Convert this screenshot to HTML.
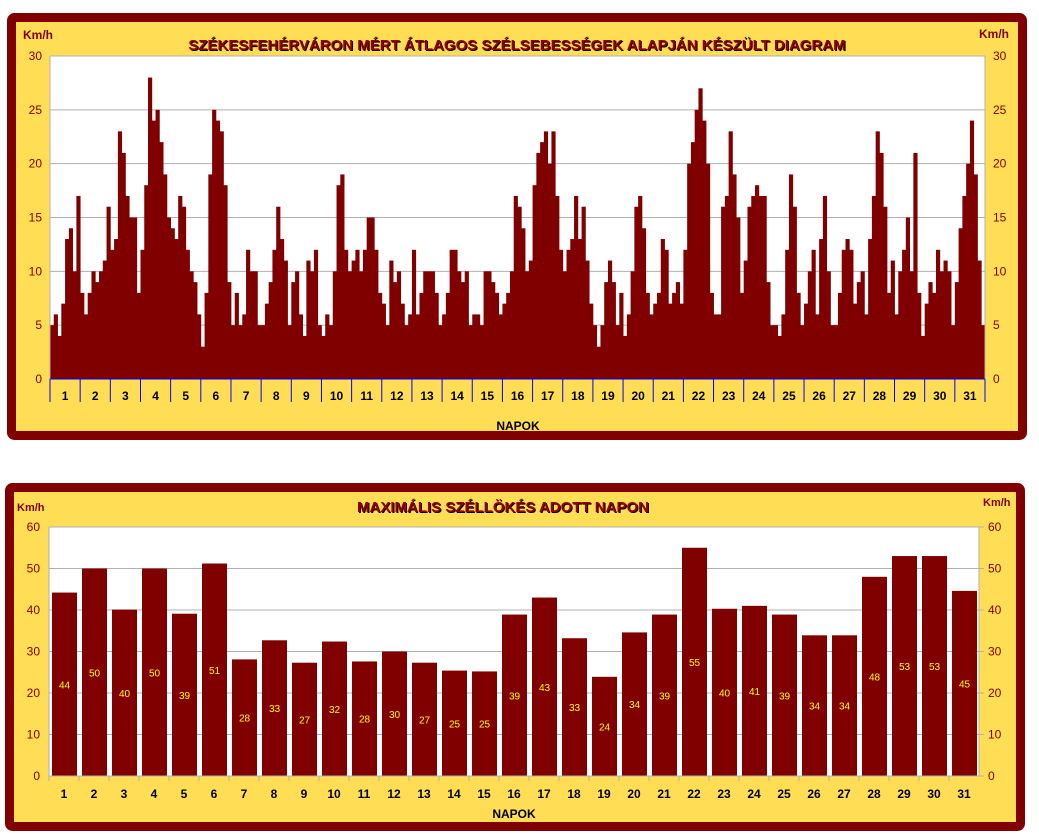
<!DOCTYPE html>
<html><head><meta charset="utf-8"><style>
body{margin:0;background:#fff;width:1039px;height:836px;overflow:hidden;font-family:"Liberation Sans",sans-serif}
svg{position:absolute;left:0;top:0}
</style></head><body>
<svg width="1039" height="836">
<rect x="11.5" y="17.5" width="1011" height="418" fill="#FFDD55" stroke="#800000" stroke-width="9" rx="3"/>
<rect x="50" y="56" width="935" height="323" fill="#fff"/>
<g id="topGrid"></g><g id="topBars"></g><g id="topAxes"></g>
<text x="23" y="39" font-size="12" font-weight="bold" fill="#800000">Km/h</text>
<text x="979" y="38" font-size="12" font-weight="bold" fill="#800000">Km/h</text>
<text x="518" y="51" font-size="15" font-weight="bold" fill="#000" text-anchor="middle">SZÉKESFEHÉRVÁRON MÉRT ÁTLAGOS SZÉLSEBESSÉGEK ALAPJÁN KÉSZÜLT DIAGRAM</text>
<text x="517" y="50" font-size="15" font-weight="bold" fill="#990000" text-anchor="middle">SZÉKESFEHÉRVÁRON MÉRT ÁTLAGOS SZÉLSEBESSÉGEK ALAPJÁN KÉSZÜLT DIAGRAM</text>
<text x="518" y="430" font-size="12" font-weight="bold" fill="#000" text-anchor="middle">NAPOK</text>

<rect x="9.5" y="487.5" width="1011" height="339" fill="#FFDD55" stroke="#800000" stroke-width="9" rx="3"/>
<rect x="49" y="527" width="930" height="249" fill="#fff"/>
<g id="botGrid"></g><g id="botBars"></g><g id="botAxes"></g>
<text x="17" y="511" font-size="11" font-weight="bold" fill="#800000">Km/h</text>
<text x="983" y="506" font-size="11" font-weight="bold" fill="#800000">Km/h</text>
<text x="504" y="513" font-size="15" font-weight="bold" fill="#000" text-anchor="middle">MAXIMÁLIS SZÉLLÖKÉS ADOTT NAPON</text>
<text x="503" y="512" font-size="15" font-weight="bold" fill="#990000" text-anchor="middle">MAXIMÁLIS SZÉLLÖKÉS ADOTT NAPON</text>
<text x="514" y="818" font-size="12" font-weight="bold" fill="#000" text-anchor="middle">NAPOK</text>
</svg>
<script>
const days = Array.from({length:31},(_,i)=>String(i+1));
const avgSpeed = [
5,6,4,7,13,14,10,17, 8,6,8,10,9,10,11,16, 12,13,23,21,17,15,15,8, 12,18,28,24,25,22,19,15,
14,13,17,16,12,10,9,6, 3,8,19,25,24,23,18,9, 5,8,5,6,12,10,10,5, 5,7,9,12,16,13,11,5,
9,10,6,4,11,10,12,5, 4,6,5,10,18,19,12,10, 11,12,10,12,15,15,12,8, 7,5,11,9,10,7,5,6,
12,6,8,10,10,10,8,5, 6,8,12,12,10,9,10,5, 6,6,5,10,10,9,8,6, 7,8,10,17,16,14,10,11,
18,21,22,23,20,23,17,12, 10,12,13,17,13,16,11,7, 5,3,5,9,11,9,5,8, 4,6,10,16,17,14,8,6,
7,8,13,12,7,8,9,7, 12,20,22,25,27,24,20,8, 6,6,16,17,23,19,15,8, 11,16,17,18,17,17,9,5,
5,4,6,12,19,16,8,5, 7,10,12,6,13,17,10,5, 5,8,12,13,12,7,9,10, 6,13,17,23,21,16,8,11,
6,10,12,15,10,21,8,4, 7,9,8,12,10,11,10,5, 9,14,17,20,24,19,11,5];
const topTicks = [0,5,10,15,20,25,30];
const maxGust = [44.2,50,40.1,50,39.1,51.2,28.1,32.7,27.3,32.4,27.6,30,27.3,25.4,25.2,38.9,43,33.2,23.9,34.6,38.9,55,40.3,41,38.9,33.9,33.9,48,53,53,44.6];
const gustLabels = ["44","50","40","50","39","51","28","33","27","32","28","30","27","25","25","39","43","33","24","34","39","55","40","41","39","34","34","48","53","53","45"];
const botTicks = [0,10,20,30,40,50,60];

const NS="http://www.w3.org/2000/svg";
function mk(parent,tag,attrs,txt){const e=document.createElementNS(NS,tag);for(const k in attrs)e.setAttribute(k,attrs[k]);if(txt!==undefined)e.textContent=txt;document.getElementById(parent).appendChild(e);return e;}

// top chart
const tX0=50,tX1=985,tY0=379,tY1=56,tMax=30;
const ty=v=>tY0-(v/tMax)*(tY0-tY1);
const dayW=(tX1-tX0)/days.length;
const barW=(tX1-tX0)/avgSpeed.length;
topTicks.forEach(t=>{
 const g=mk('topGrid','line',{x1:tX0,x2:tX1,y1:ty(t),y2:ty(t),stroke:'#b0b0b0','stroke-width':1});
 
 
 const l=mk('topAxes','text',{x:42,y:ty(t)+4,'font-size':12,fill:'#800000','text-anchor':'end'},t);
 
 
 const r=mk('topAxes','text',{x:993,y:ty(t)+4,'font-size':12,fill:'#800000'},t);
 
 
});
avgSpeed.forEach((v,i)=>{
 const b=mk('topBars','rect',{x:tX0+i*barW,y:ty(v),width:barW+0.4,height:tY0-ty(v),fill:'#800000'});
 
 
});
mk('topAxes','line',{x1:tX0,x2:tX0,y1:tY1,y2:tY0,stroke:'#b0b0b0'});
mk('topAxes','line',{x1:tX1,x2:tX1,y1:tY1,y2:tY0,stroke:'#b0b0b0'});
days.forEach((d,i)=>{
 const t=mk('topAxes','line',{x1:tX0+i*dayW,x2:tX0+i*dayW,y1:tY0,y2:402,stroke:'#0000ff'});
 
 
 const l=mk('topAxes','text',{x:tX0+(i+0.5)*dayW,y:400,'font-size':12,'font-weight':'bold',fill:'#000','text-anchor':'middle'},d);
 
 
});
mk('topAxes','line',{x1:tX1,x2:tX1,y1:tY0,y2:402,stroke:'#0000ff'});
mk('topAxes','line',{x1:tX0,x2:tX1,y1:tY0,y2:tY0,stroke:'#0000ff'});

// bottom chart
const bX0=49,bX1=979,bY0=776,bY1=527,bMax=60;
const by=v=>bY0-(v/bMax)*(bY0-bY1);
const slot=(bX1-bX0)/days.length;
botTicks.forEach(t=>{
 const g=mk('botGrid','line',{x1:bX0,x2:bX1,y1:by(t),y2:by(t),stroke:'#b0b0b0'});
 
 
 const l=mk('botAxes','text',{x:40,y:by(t)+4,'font-size':12,fill:'#800000','text-anchor':'end'},t);
 
 
 const r=mk('botAxes','text',{x:988,y:by(t)+4,'font-size':12,fill:'#800000'},t);
 
 
 mk('botAxes','line',{x1:bX1,x2:bX1+5,y1:by(t),y2:by(t),stroke:'#b0b0b0'});
});
maxGust.forEach((v,i)=>{
 const x=bX0+i*slot+3;
 const b=mk('botBars','rect',{x:x,y:by(v),width:25,height:bY0-by(v),fill:'#800000'});
 
 
 const l=mk('botBars','text',{x:x+12.5,y:by(v/2)+4,'font-size':10,fill:'#FFFF00','text-anchor':'middle'},gustLabels[i]);
 
 
});
mk('botAxes','line',{x1:bX0,x2:bX0,y1:bY1,y2:bY0,stroke:'#b0b0b0'});
mk('botAxes','line',{x1:bX1,x2:bX1,y1:bY1,y2:bY0,stroke:'#b0b0b0'});
mk('botAxes','line',{x1:bX0,x2:bX1,y1:bY0,y2:bY0,stroke:'#b0b0b0'});
days.forEach((d,i)=>{
 mk('botAxes','line',{x1:bX0+i*slot,x2:bX0+i*slot,y1:bY0,y2:bY0+5,stroke:'#b0b0b0'});
 const l=mk('botAxes','text',{x:bX0+(i+0.5)*slot,y:798,'font-size':12,'font-weight':'bold',fill:'#000','text-anchor':'middle'},d);
 
 
});
</script>
</body></html>
